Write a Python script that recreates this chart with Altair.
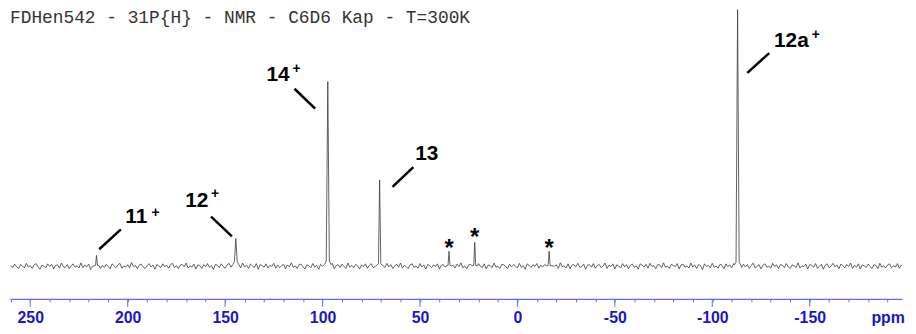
import altair as alt
import pandas as pd

title_text = "FDHen542 - 31P{H} - NMR - C6D6 Kap - T=300K"

# baseline noise, one value per ppm from 260 ppm downwards
noise_start = 260
noise_step = -1
noise = [
    0.3, -0.5, 0.8, -0.2, -1.0, 0.6, 0.1, -0.7, 1.1, -0.4, 0.2, -0.9, 0.5, 1.0, -0.3, -1.2, 0.4, 0.0, -0.6, 0.9,
    -0.1, 0.7, -1.1, 0.3, 0.5, -0.8, 1.2, -0.2, -0.5, 0.6, -1.0, 0.2, 0.9, -0.4, 0.1, -0.7, 1.3, -0.6, 0.4, -0.3,
    0.8, -1.3, 0.0, 0.6, -0.2, 1.0, -0.9, 0.3, -0.5, 0.7, -0.1, -1.1, 0.9, 0.2, -0.6, 0.5, 1.1, -0.8, 0.1, -0.3,
    0.6, -0.7, 1.4, -0.2, 0.3, -1.0, 0.5, 0.8, -0.4, -0.9, 0.2, 1.0, -0.3, 0.4, -1.2, 0.7, 0.0, -0.5, 0.9, -0.1,
    0.3, -0.8, 0.6, 1.1, -0.6, 0.2, -1.0, 0.4, 0.7, -0.3, 1.2, -0.7, 0.1, -0.4, 0.8, -1.1, 0.5, 0.2, -0.9, 0.6,
    -0.2, 1.0, -0.5, 0.3, -1.3, 0.7, 0.4, -0.6, 0.9, -0.1, -0.8, 0.5, 1.1, -0.4, 0.0, -1.0, 0.6, 0.3, -0.7, 1.2,
    -0.3, 0.4, -0.9, 0.8, 0.1, -0.5, 1.0, -1.2, 0.6, 0.2, -0.4, 0.9, -0.7, 0.3, -0.1, 1.1, -0.8, 0.5, -0.6, 0.2,
    0.7, -1.0, 0.4, -0.2, 1.3, -0.5, 0.1, -0.9, 0.6, 0.8, -0.3, -1.1, 0.5, 0.2, -0.6, 1.0, -0.4, 0.3, -1.2, 0.7,
    0.0, 0.9, -0.7, 0.4, -0.3, 1.1, -1.0, 0.2, 0.6, -0.5, 0.8, -0.1, -0.9, 1.2, -0.4, 0.3, -0.6, 0.7, 0.1, -1.1,
    0.5, -0.2, 0.9, -0.8, 0.3, 1.0, -0.6, -0.1, 0.7, -1.3, 0.4, 0.2, -0.5, 1.1, -0.3, 0.6, -0.9, 0.0, 0.8, -0.4,
    1.2, -0.7, 0.3, -0.2, -1.0, 0.6, 0.9, -0.5, 0.1, -0.8, 1.0, -0.3, 0.4, -1.1, 0.7, 0.2, -0.6, 0.5, -0.1, 0.9,
    -1.2, 0.4, 0.6, -0.4, 1.1, -0.9, 0.0, 0.3, -0.7, 0.8, -0.2, 1.3, -0.6, 0.1, -1.0, 0.5, 0.7, -0.3, 0.2, -0.8,
    1.0, -0.1, -0.5, 0.9, -1.1, 0.4, 0.3, -0.6, 1.2, -0.4, 0.0, -0.9, 0.7, 0.5, -0.2, -1.0, 0.8, -0.3, 0.6, 0.1,
    -0.7, 1.1, -0.4, 0.2, -1.2, 0.9, 0.3, -0.5, 0.6, -0.1, 1.0, -0.8, 0.4, -0.3, 0.7, -1.1, 0.2, 0.8, -0.6, 0.0,
    0.5, -0.9, 1.3, -0.2, 0.1, -0.7, 0.9, -1.0, 0.4, 0.6, -0.3, 1.1, -0.5, -0.1, 0.8, -1.2, 0.3, 0.6, -0.4, 1.0,
    -0.8, 0.2, 0.7, -0.6, 0.0, 1.2, -0.9, 0.4, -0.2, 0.9, -1.1, 0.5, 0.1, -0.7, 1.0, -0.3, 0.6, -1.0, 0.3, 0.8,
    -0.5, 0.1, -1.2, 0.9, 0.4, -0.3, 0.7, -0.8, 1.1, -0.1, 0.2, -1.0, 0.6, 0.5, -0.6, 1.3, -0.4, 0.0, -0.9, 0.7,
    0.3, -0.2, 1.0, -1.1, 0.5, 0.8, -0.5, 0.1, -0.7, 1.2, -0.3, 0.4, -0.9, 0.6, 0.2, -1.3, 0.9, -0.1, 0.3, -0.6,
    1.1, -0.4, 0.0, -0.8, 0.7, 0.3, -1.0, 0.9, -0.2, 0.5, -0.6, 1.0, -1.2, 0.4, 0.1, -0.5, 0.8, -0.3, 0.6, -0.9,
    0.2, 1.2, -0.7, -0.1, 0.6, -1.1, 0.4, 0.9, -0.4, 0.0, -0.8, 1.1, -0.2, 0.5, -1.0, 0.7, 0.3, -0.6, 1.0, -0.3,
    -0.9, 0.5, 0.2, -0.5, 1.3, -0.7, 0.1, -0.2, 0.8, -1.1, 0.6, 0.3, -0.4, 1.0, -0.8, -0.1, 0.7, -1.2, 0.4, 0.9,
    -0.6, 0.0, 1.1, -0.3, 0.5, -1.0, 0.8, 0.2, -0.7, 0.6, -0.1, 1.2, -0.9, 0.3, -0.4, 0.9, -1.1, 0.5, 0.1, -0.5,
    0.8, -0.2, -0.9, 0.6, 0.3, -1.0, 1.1, -0.4, 0.2, -0.7, 0.5, 0.9, -0.6, 0.1, -0.3, 1.0, -0.8, 0.4, -0.1, 0.6,
]

# peaks (ppm, relative intensity with 12a+ = 100)
peak_ppm = [216.0, 144.5, 97.3, 70.7, 35.1, 21.9, -16.3, -113.0]
peak_height = [4.2, 10.8, 71.9, 33.6, 5.8, 9.3, 5.8, 100.0]
peak_halfwidth = [0.5, 0.7, 0.8, 0.6, 0.5, 0.5, 0.5, 0.8]
peak_foot = [0.3, 1.8, 2.0, 1.0, 0.3, 0.3, 0.3, 1.5]

# annotations
label_text = ["14", "13", "12", "11", "12a"]
label_ppm = [122.8, 46.5, 164.5, 195.6, -140.6]
label_int = [74.3, 43.6, 25.3, 19.3, 87.6]

plus_ppm = [113.4, 155.1, 185.7, -153.1]
plus_int = [76.8, 28.2, 20.8, 90.0]

star_ppm = [35.1, 21.9, -16.3]
star_int = [8.9, 13.1, 8.9]

leader_ppm1 = [114.4, 64.1, 157.2, 214.6, -118.0]
leader_int1 = [69.1, 30.9, 19.3, 6.6, 75.3]
leader_ppm2 = [103.8, 53.4, 146.5, 203.5, -129.2]
leader_int2 = [61.4, 38.6, 11.6, 14.3, 83.0]

tick_values = list(range(260, -200, -10))
major_ticks = [250, 200, 150, 100, 50, 0, -50, -100, -150]

# ---- build spectrum table ----
points = []
for i, v in enumerate(noise):
    p = noise_start + i * noise_step
    if any(abs(p - q) < w + 1.2 for q, w in zip(peak_ppm, peak_halfwidth)):
        continue
    points.append((p, v))
for q, h, w, f in zip(peak_ppm, peak_height, peak_halfwidth, peak_foot):
    points += [(q + w + 0.9, f * 0.3), (q + w, f), (q, h), (q - w, f), (q - w - 0.9, f * 0.3)]
points.sort(key=lambda t: -t[0])
spec = pd.DataFrame(points, columns=["ppm", "inten"])
spec["order"] = range(len(spec))

labels = pd.DataFrame({"t": label_text, "ppm": label_ppm, "inten": label_int})
pluses = pd.DataFrame({"t": ["+"] * len(plus_ppm), "ppm": plus_ppm, "inten": plus_int})
stars = pd.DataFrame({"t": ["*"] * len(star_ppm), "ppm": star_ppm, "inten": star_int})
leaders = pd.DataFrame({"ppm": leader_ppm1, "inten": leader_int1, "p2": leader_ppm2, "i2": leader_int2})
majors = pd.DataFrame({"ppm": major_ticks})
title_df = pd.DataFrame({"t": [title_text]})

AXIS_BLUE = "#6a6ae6"

xscale = alt.Scale(domain=[260.4, -197.4], nice=False, zero=False)
yscale = alt.Scale(domain=[-12.74, 100], nice=False, zero=False)

xaxis = alt.Axis(
    values=tick_values,
    tickSize=3,
    labelExpr="datum.value === -190 ? 'ppm' : (datum.value % 50 === 0 ? '' + datum.value : '')",
    labelFont="Liberation Sans", labelFontWeight="bold", labelFontSize=16,
    labelColor="#1818c8", domainColor=AXIS_BLUE, tickColor=AXIS_BLUE,
    domainWidth=1.3, tickWidth=1, labelPadding=8,
    labelOverlap=False, labelFlush=False, labelBound=False,
    grid=False, title=None,
)

X = alt.X("ppm:Q", scale=xscale, axis=xaxis)
Y = alt.Y("inten:Q", scale=yscale, axis=None)

line = alt.Chart(spec).mark_line(color="#3a3a3a", strokeWidth=0.8, clip=True).encode(
    x=X, y=Y, order="order:Q",
)

major = alt.Chart(majors).mark_rule(color=AXIS_BLUE, strokeWidth=1).encode(
    x=X, y=alt.value(292), y2=alt.value(300)
)

lab = alt.Chart(labels).mark_text(
    font="Liberation Sans", fontWeight="bold", fontSize=21, color="black",
    align="center", baseline="middle"
).encode(x=X, y=Y, text="t:N")

plus = alt.Chart(pluses).mark_text(
    font="Liberation Sans", fontWeight="bold", fontSize=14, color="black",
    align="center", baseline="middle"
).encode(x=X, y=Y, text="t:N")

star = alt.Chart(stars).mark_text(
    font="Liberation Sans", fontWeight="bold", fontSize=24, color="black",
    align="center", baseline="middle", dy=6
).encode(x=X, y=Y, text="t:N")

lead = alt.Chart(leaders).mark_rule(color="black", strokeWidth=2.5).encode(
    x=X, x2="p2:Q", y=Y, y2="i2:Q",
)

ttl = alt.Chart(title_df).mark_text(
    font="Liberation Mono", fontSize=18, color="#333333",
    align="left", baseline="top"
).encode(x=alt.value(0), y=alt.value(0), text="t:N")

chart = alt.layer(line, major, lead, lab, plus, star, ttl).properties(
    width=900, height=292,
    autosize=alt.AutoSizeParams(type="none"),
    padding={"left": 2, "top": 0, "right": 6, "bottom": 34},
).configure_view(stroke=None)

chart.save("out.html", embed_options={"renderer": "svg", "actions": False})
